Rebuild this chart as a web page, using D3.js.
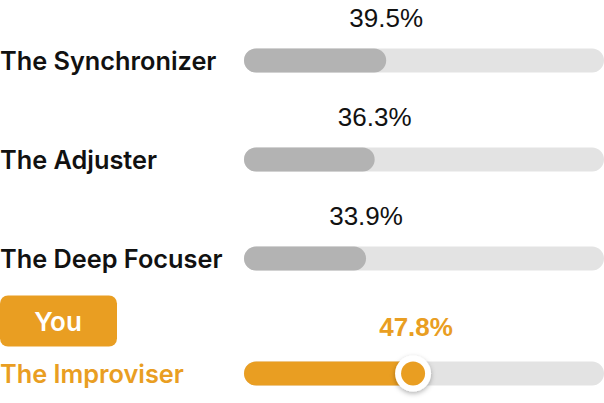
<!DOCTYPE html>
<html>
<head>
<meta charset="utf-8">
<script src="https://cdn.jsdelivr.net/npm/d3@7"></script>
<style>
  html, body { margin: 0; padding: 0; background: #fff; }
  svg { display: block; font-family: "Liberation Sans", Arial, sans-serif; }
  .cat { font-family: Inter, "Liberation Sans", sans-serif; }
</style>
</head>
<body>
<svg id="chart" width="604" height="403"></svg>
<script>
// values
const categories = ['The Synchronizer', 'The Adjuster', 'The Deep Focuser', 'The Improviser']
const values = [39.5, 36.3, 33.9, 47.8]
const youIndex = 3
const badgeLabel = 'You'

const orange = '#E99E22'
const gray = '#B3B3B3'
const track = '#E3E3E3'

const barH = 24
const badgeGap = 16

const svg = d3.select('#chart')

const x = d3.scaleLinear().domain([0, 100]).range([244, 604])

const y = d3.scalePoint()
  .domain(categories)
  .range([60.5, 357.5])

const rowY = (d, i) => y(d) + (i >= youIndex ? badgeGap : 0)

const defs = svg.append('defs')
const f = defs.append('filter').attr('id', 'knobShadow')
  .attr('x', '-50%').attr('y', '-50%').attr('width', '200%').attr('height', '200%')
f.append('feDropShadow')
  .attr('dx', 0).attr('dy', 2).attr('stdDeviation', 2.5)
  .attr('flood-color', '#000').attr('flood-opacity', 0.3)

const rows = svg.selectAll('g.row')
  .data(categories)
  .join('g')
  .attr('class', 'row')
  .attr('transform', (d, i) => `translate(0,${rowY(d, i)})`)

// category labels
rows.append('text')
  .attr('class', 'cat')
  .attr('x', 0)
  .attr('y', 9.5)
  .attr('font-size', 25.3)
  .attr('font-weight', 600)
  .attr('fill', (d, i) => i === youIndex ? orange : '#111')
  .text(d => d)

// background track
rows.append('rect')
  .attr('x', x(0))
  .attr('y', -barH / 2)
  .attr('width', x(100) - x(0))
  .attr('height', barH)
  .attr('rx', barH / 2)
  .attr('fill', track)

// value bar
rows.append('rect')
  .attr('x', x(0))
  .attr('y', -barH / 2)
  .attr('width', (d, i) => x(values[i]) - x(0))
  .attr('height', barH)
  .attr('rx', barH / 2)
  .attr('fill', (d, i) => i === youIndex ? orange : gray)

// value labels
rows.append('text')
  .attr('x', (d, i) => x(values[i]))
  .attr('y', (d, i) => i === youIndex ? -38 : -34)
  .attr('text-anchor', 'middle')
  .attr('font-size', 26)
  .attr('font-weight', (d, i) => i === youIndex ? 'bold' : 'normal')
  .attr('fill', (d, i) => i === youIndex ? orange : '#111')
  .text((d, i) => values[i].toFixed(1) + '%')

// knob on the highlighted row
const you = rows.filter((d, i) => i === youIndex)
you.append('circle')
  .attr('cx', x(values[youIndex]) - 3)
  .attr('r', 18)
  .attr('fill', '#fff')
  .attr('filter', 'url(#knobShadow)')
you.append('circle')
  .attr('cx', x(values[youIndex]) - 3)
  .attr('r', 12)
  .attr('fill', orange)

// "You" badge
const badge = svg.append('g')
  .attr('transform', `translate(0,${rowY(categories[youIndex], youIndex) - 78})`)
badge.append('rect')
  .attr('x', 0).attr('y', 0)
  .attr('width', 117).attr('height', 51)
  .attr('rx', 8)
  .attr('fill', orange)
badge.append('text')
  .attr('class', 'cat')
  .attr('x', 58)
  .attr('y', 35)
  .attr('text-anchor', 'middle')
  .attr('font-size', 26)
  .attr('font-weight', 600)
  .attr('fill', '#fff')
  .text(badgeLabel)
</script>
</body>
</html>
